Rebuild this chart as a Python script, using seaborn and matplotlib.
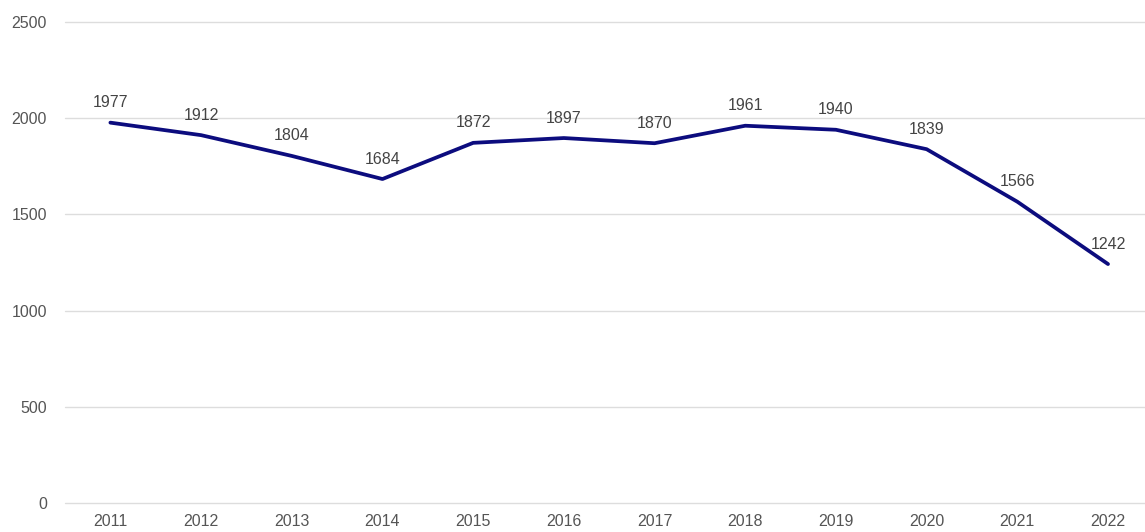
import matplotlib
matplotlib.use("Agg")
import matplotlib.pyplot as plt
import seaborn as sns
import pandas as pd

# data
years = ['2011', '2012', '2013', '2014', '2015', '2016',
         '2017', '2018', '2019', '2020', '2021', '2022']
values = [1977, 1912, 1804, 1684, 1872, 1897, 1870, 1961, 1940, 1839, 1566, 1242]
y_ticks = [0, 500, 1000, 1500, 2000, 2500]

df = pd.DataFrame({'year': years, 'value': values})

sns.set_style('white')
plt.rcParams['font.family'] = ['Liberation Sans', 'DejaVu Sans']

fig = plt.figure(figsize=(11.45, 5.32), dpi=100)
ax = fig.add_axes([0.0568, 0.0545, 0.9505, 0.9041])

sns.lineplot(data=df, x='year', y='value', ax=ax, color='#0c0c7e',
             linewidth=2.7, sort=False)

for i, v in enumerate(values):
    ax.annotate(str(v), (i, v), xytext=(0, 9), textcoords='offset points',
                ha='center', va='bottom', fontsize=11.5, color='#444444')

ax.set_xlim(-0.5, len(years) - 0.5)
ax.set_ylim(0, 2500)
ax.set_yticks(y_ticks)
ax.yaxis.grid(True, color='#dddddd', linewidth=1)
for gl in ax.get_ygridlines():
    gl.set_clip_on(False)
ax.set_axisbelow(True)
for s in ax.spines.values():
    s.set_visible(False)
ax.tick_params(axis='both', length=0, labelsize=11.5, labelcolor='#555555')
ax.tick_params(axis='y', pad=13)
ax.tick_params(axis='x', pad=8)
ax.set_xlabel('')
ax.set_ylabel('')

fig.savefig('out.png', dpi=100)
